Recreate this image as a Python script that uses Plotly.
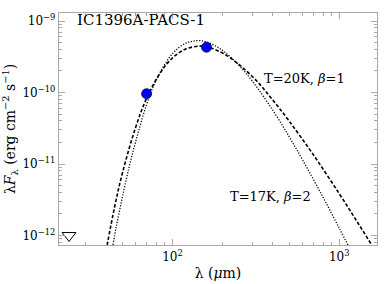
import plotly.graph_objects as go

# Observed photometry (micron, erg cm^-2 s^-1)
obs_wav = [70, 160]
obs_flux = [9.6e-11, 4.3e-10]
lim_wav = [24]
lim_flux = [1.0e-12]

# Curve: T=20K, beta=1 (dashed)
wav_a = [40, 45, 50, 60, 70, 85, 100, 120, 145, 160, 200, 250, 320, 400, 500, 700, 1000, 1300, 1700]
flux_a = [6.1e-13, 2.5e-12, 7.3e-12, 3.2e-11, 8.3e-11, 1.92e-10, 3.04e-10, 4.06e-10, 4.45e-10, 4.35e-10,
          3.56e-10, 2.47e-10, 1.45e-10, 7.8e-11, 4.0e-11, 1.34e-11, 3.84e-12, 1.47e-12, 5.4e-13]

# Curve: T=17K, beta=2 (dotted)
wav_b = [44, 46, 50, 55, 60, 70, 80, 100, 120, 140, 160, 200, 250, 300, 400, 500, 600, 800, 1000, 1150]
flux_b = [7.4e-13, 1.31e-12, 3.35e-12, 9.1e-12, 2.0e-11, 6.8e-11, 1.5e-10, 3.5e-10, 4.87e-10, 5.3e-10,
          5.1e-10, 3.87e-10, 2.41e-10, 1.46e-10, 5.62e-11, 2.42e-11, 1.16e-11, 3.41e-12, 1.26e-12, 6.7e-13]

ytick_vals = [1e-12, 1e-11, 1e-10, 1e-9]
ytick_text = ["10<sup>−12</sup>", "10<sup>−11</sup>", "10<sup>−10</sup>", "10<sup>−9</sup>"]
xtick_vals = [100, 1000]
xtick_text = ["10<sup>2</sup>", "10<sup>3</sup>"]
x_minor = [30, 40, 50, 60, 70, 80, 90, 200, 300, 400, 500, 600, 700, 800, 900]
y_minor = [8e-13, 9e-13,
           2e-12, 3e-12, 4e-12, 5e-12, 6e-12, 7e-12, 8e-12, 9e-12,
           2e-11, 3e-11, 4e-11, 5e-11, 6e-11, 7e-11, 8e-11, 9e-11,
           2e-10, 3e-10, 4e-10, 5e-10, 6e-10, 7e-10, 8e-10, 9e-10]

FONT = "DejaVu Serif"
FRAME = "#a8a8a8"

fig = go.Figure()
fig.add_trace(go.Scatter(x=wav_a, y=flux_a, mode="lines", line=dict(color="black", width=1.6, dash="3.5px,2px", shape="spline"), hoverinfo="skip"))
fig.add_trace(go.Scatter(x=wav_b, y=flux_b, mode="lines", line=dict(color="black", width=1.3, dash="1.2px,1.6px", shape="spline"), hoverinfo="skip"))
fig.add_trace(go.Scatter(x=obs_wav, y=obs_flux, mode="markers",
                         marker=dict(symbol="circle", size=10, color="#0000ff", line=dict(color="#000033", width=0.8))))
fig.add_trace(go.Scatter(x=lim_wav, y=lim_flux, mode="markers",
                         marker=dict(symbol="triangle-down-open", size=12, color="black", line=dict(width=1))))

axis_common = dict(type="log", showline=True, linecolor=FRAME, linewidth=1.4, mirror="allticks",
                   ticks="inside", ticklen=6, tickcolor=FRAME, showgrid=False, zeroline=False,
                   automargin=False,
                   tickfont=dict(family=FONT, size=12, color="black"))

fig.update_xaxes(**axis_common, range=[1.32, 3.226], tickvals=xtick_vals, ticktext=xtick_text,
                 minor=dict(tickvals=x_minor, ticks="inside", ticklen=3, tickcolor=FRAME, showgrid=False),
                 title=dict(text="λ (<i>μ</i>m)", font=dict(family=FONT, size=14, color="black"), standoff=5))
fig.update_yaxes(**axis_common, range=[-12.133, -8.888], tickvals=ytick_vals, ticktext=ytick_text,
                 minor=dict(tickvals=y_minor, ticks="inside", ticklen=3, tickcolor=FRAME, showgrid=False),
                 title=dict(text="λ<i>F</i><sub>λ</sub> (erg cm<sup>−2</sup> s<sup>−1</sup>)",
                            font=dict(family=FONT, size=14, color="black"), standoff=12))

fig.add_annotation(x=0.05, y=0.97, xref="paper", yref="paper", text="IC1396A-PACS-1", showarrow=False,
                   xanchor="left", yanchor="middle", font=dict(family=FONT, size=15, color="black"))
fig.add_annotation(x=0.638, y=0.716, xref="paper", yref="paper", text="T=20K, <i>β</i>=1", showarrow=False,
                   xanchor="left", yanchor="middle", font=dict(family=FONT, size=13, color="black"))
fig.add_annotation(x=0.531, y=0.207, xref="paper", yref="paper", text="T=17K, <i>β</i>=2", showarrow=False,
                   xanchor="left", yanchor="middle", font=dict(family=FONT, size=13, color="black"))

fig.update_layout(width=390, height=284, margin=dict(l=59, r=13, t=13, b=39),
                  paper_bgcolor="white", plot_bgcolor="white", showlegend=False)

fig.write_html("out.html", config={"displayModeBar": False},
               post_script="document.body.style.margin='0px';document.body.style.padding='0px';")
